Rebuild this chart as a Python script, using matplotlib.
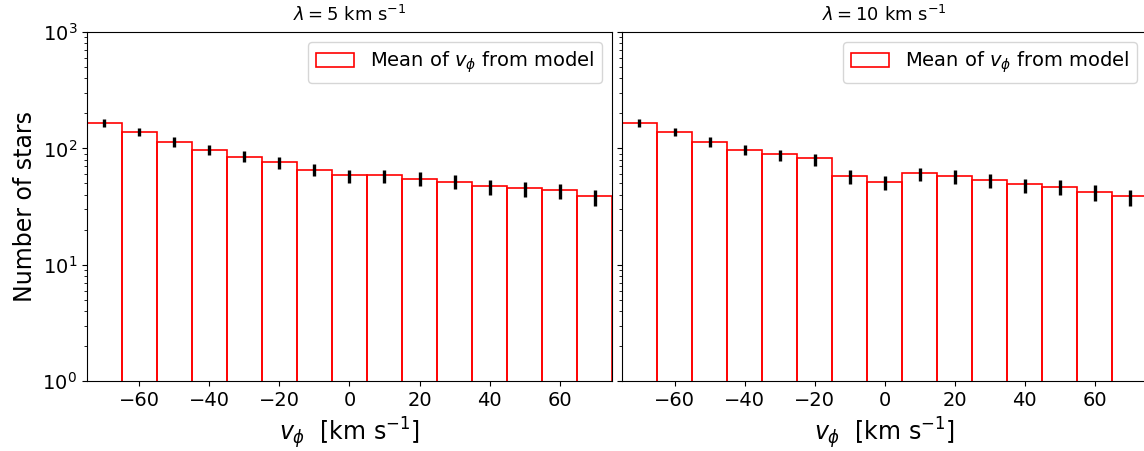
import numpy as np
import matplotlib
matplotlib.use("Agg")
import matplotlib.pyplot as plt

centers = [-70, -60, -50, -40, -30, -20, -10, 0, 10, 20, 30, 40, 50, 60, 70]

model_5 = [165, 138, 114, 97.5, 85, 76, 65.6, 58.7, 58.7, 54.9, 51, 47.2, 45.4, 43.6, 38.7]
obs_5 = [166, 139, 114, 97, 85, 75, 66, 58, 58, 55, 52, 47, 45, 43, 38]
err_5 = [12.9, 11.8, 10.7, 9.8, 9.2, 8.7, 8.1, 7.6, 7.6, 7.4, 7.2, 6.9, 6.7, 6.6, 6.2]

model_10 = [165, 138, 114, 97.5, 89, 82, 57.5, 51, 61.4, 57.5, 53.5, 49.1, 46.3, 42.2, 38.7]
obs_10 = [166, 139, 114, 97, 88, 80, 57, 51, 60, 57, 53, 48, 47, 42, 38]
err_10 = [12.9, 11.8, 10.7, 9.8, 9.4, 8.9, 7.6, 7.1, 7.7, 7.6, 7.3, 6.9, 6.9, 6.5, 6.2]

titles = [r'$\lambda = 5$ km s$^{-1}$', r'$\lambda = 10$ km s$^{-1}$']
legend_label = r'Mean of $v_\phi$ from model'
xlabel = r'$v_\phi$  [km s$^{-1}$]'
ylabel = 'Number of stars'

fig = plt.figure(figsize=(11.44, 4.51), dpi=100)
ax1 = fig.add_axes([0.076, 0.155, 0.459, 0.774])
ax2 = fig.add_axes([0.5437, 0.155, 0.459, 0.774], sharey=ax1)

for ax, model, obs, err, title in [(ax1, model_5, obs_5, err_5, titles[0]),
                                   (ax2, model_10, obs_10, err_10, titles[1])]:
    ax.set_yscale('log')
    ax.bar(centers, model, width=10, fill=False, edgecolor='red', linewidth=1.2,
           label=legend_label)
    ax.errorbar(centers, obs, yerr=err, fmt='none', ecolor='black', elinewidth=2.4, capsize=0)
    ax.set_xlim(-75, 75)
    ax.set_ylim(1, 1000)
    ax.set_xticks([-60, -40, -20, 0, 20, 40, 60])
    ax.tick_params(axis='both', labelsize=14)
    ax.set_title(title, fontsize=13, pad=8)
    ax.set_xlabel(xlabel, fontsize=17)
    ax.legend(loc='upper right', fontsize=14)

ax1.set_ylabel(ylabel, fontsize=17)
plt.setp(ax2.get_yticklabels(), visible=False)

fig.savefig('out.png', dpi=100)
